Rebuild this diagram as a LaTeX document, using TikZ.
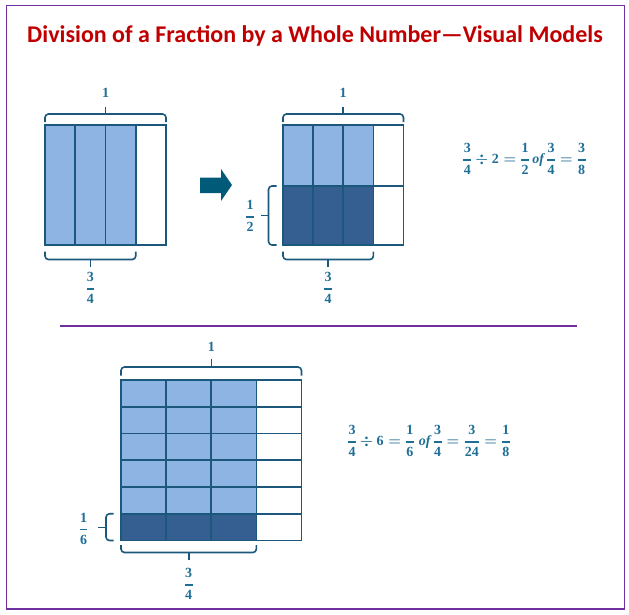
\documentclass[tikz,border=0pt]{standalone}
\usepackage{amsmath}
\usepackage{fontspec}
\newfontfamily\titlefont{Carlito}
\newfontfamily\eqfont{Liberation Serif}
\definecolor{frame}{HTML}{7030A0}
\definecolor{titlered}{HTML}{C00000}
\definecolor{lightb}{HTML}{8EB4E3}
\definecolor{darkb}{HTML}{365F91}
\definecolor{gridc}{HTML}{1B587C}
\definecolor{txtc}{HTML}{1F6E96}
\definecolor{arrowc}{HTML}{005A78}
\newcommand\fr[2]{\genfrac{}{}{1.2pt}{0}{\mbox{\kern0.3pt#1\kern0.3pt}}{\mbox{\kern0.3pt#2\kern0.3pt}}}
\newcommand\nm[1]{\mbox{#1}}
\nulldelimiterspace=0.6pt
\begin{document}
\begin{tikzpicture}[x=1pt,y=-1pt,
  gridline/.style={draw=gridc,line width=1.8pt},
  brc/.style={draw=gridc,line width=1.6pt,rounded corners=3.5pt},
  tip/.style={draw=gridc,line width=1.6pt},
  lbl/.style={text=txtc,font=\eqfont\bfseries\fontsize{14}{16}\selectfont\boldmath,inner sep=0pt},
  eqn/.style={text=txtc,font=\eqfont\bfseries\fontsize{14}{16}\selectfont\boldmath,inner sep=0pt}]
\useasboundingbox (0,0) rectangle (629,614);
% frame
\draw[frame,line width=1.5pt] (6.5,5.5) rectangle (624.5,609);
\node[text=titlered,font=\titlefont\bfseries\fontsize{24}{28}\selectfont] (title) at (315,36) {Division of a Fraction by a Whole Number—Visual Models};
\coordinate (sepL) at (60,326);
\coordinate (sepR) at (577,326);
\draw[frame,line width=1.5pt] (sepL) -- (sepR);

% ---------- top-left model ----------
\coordinate (A0) at (45,125);
\coordinate (A1) at (166,245);
\fill[lightb] (45,125) rectangle (135.75,245);
\foreach \x in {75.25,105.5,135.75} \draw[gridline] (\x,125) -- (\x,245);
\draw[gridline] (A0) rectangle (A1);
% brace above
\draw[brc] (45,122) -- (45,114) -- (166,114) -- (166,122);
\draw[tip] (105.5,114) -- (105.5,107);
\node[lbl] (a1) at (105.5,93) {1};
% brace below
\draw[brc] (45,251.5) -- (45,259.5) -- (135.75,259.5) -- (135.75,251.5);
\draw[tip] (90.4,259.5) -- (90.4,267);
\node[lbl] (a34) at (90.4,288) {$\fr34$};

% arrow
\fill[arrowc] (200,177.5) -- (221,177.5) -- (221,169) -- (232,185) -- (221,201) -- (221,193) -- (200,193) -- cycle;

% ---------- top-right model ----------
\coordinate (B0) at (283,125);
\coordinate (B1) at (403.5,245);
\fill[lightb] (283,125) rectangle (373.4,186);
\fill[darkb] (283,186) rectangle (373.4,245);
\foreach \x in {313.1,343.2,373.4} \draw[gridline] (\x,125) -- (\x,245);
\draw[gridline] (283,186) -- (403.5,186);
\draw[gridline] (B0) rectangle (B1);
\draw[brc] (283,122) -- (283,114) -- (403.5,114) -- (403.5,122);
\draw[tip] (343.2,114) -- (343.2,107);
\node[lbl] (b1) at (343.2,93) {1};
\draw[brc] (276.5,186) -- (268.5,186) -- (268.5,245) -- (276.5,245);
\draw[tip] (268.5,215.5) -- (261,215.5);
\node[lbl] (b12) at (250,216) {$\fr12$};
\draw[brc] (283,251.5) -- (283,259.5) -- (373.4,259.5) -- (373.4,251.5);
\draw[tip] (328.2,259.5) -- (328.2,267);
\node[lbl] (b34) at (328.2,288) {$\fr34$};

\node[eqn] (eq1) at (524.5,159) {$\fr34\div\nm{2}=\fr12\,\nm{\itshape of}\,\fr34=\fr38$};

% ---------- bottom model ----------
\coordinate (C0) at (121,380);
\coordinate (C1) at (301.5,540.5);
\fill[lightb] (121,380) rectangle (256.4,513.75);
\fill[darkb] (121,513.75) rectangle (256.4,540.5);
\foreach \x in {166.1,211.3,256.4} \draw[gridline] (\x,380) -- (\x,540.5);
\foreach \y in {406.75,433.5,460.25,487,513.75} \draw[gridline] (121,\y) -- (301.5,\y);
\draw[gridline] (C0) rectangle (C1);
\draw[brc] (121,375.5) -- (121,367) -- (301.5,367) -- (301.5,375.5);
\draw[tip] (211.3,367) -- (211.3,359);
\node[lbl] (c1) at (211.3,346.5) {1};
\draw[brc] (113.5,513.75) -- (106,513.75) -- (106,540.5) -- (113.5,540.5);
\draw[tip] (106,527.5) -- (98,527.5);
\node[lbl] (c16) at (83.5,529) {$\fr16$};
\draw[brc] (121,545) -- (121,552.5) -- (256.4,552.5) -- (256.4,545);
\draw[tip] (188.7,552.5) -- (188.7,560);
\node[lbl] (c34) at (188.7,584) {$\fr34$};

\node[eqn] (eq2) at (429,441) {$\fr34\div\nm{6}=\fr16\;\nm{\itshape of}\,\fr34=\fr{3}{24}=\fr18$};
\end{tikzpicture}
\end{document}
